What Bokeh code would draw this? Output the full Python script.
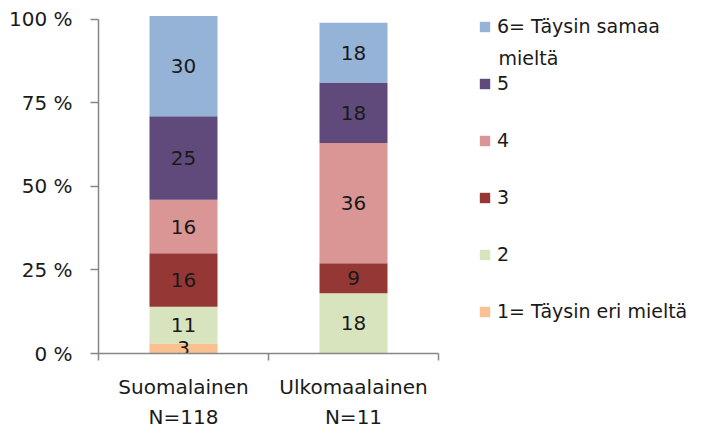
import numpy as np
from bokeh.plotting import figure
from bokeh.models import (ColumnDataSource, FixedTicker, LinearAxis, Legend,
                          LegendItem, Range1d, Label)
from bokeh.embed import file_html
from bokeh.resources import INLINE

# ---- data ----
categories = ["Suomalainen", "Ulkomaalainen"]
n_labels = ["N=118", "N=11"]
levels = ["1= Täysin eri mieltä", "2", "3", "4", "5", "6= Täysin samaa"]
level6_wrap = "mieltä"
colors = ["#FAC090", "#D7E4BD", "#953735", "#D99694", "#604A7B", "#95B3D7"]
suomalainen = [3, 11, 16, 16, 25, 30]
ulkomaalainen = [0, 18, 9, 36, 18, 18]
y_ticks = [0, 25, 50, 75, 100]
y_tick_labels = ["0 %", "25 %", "50 %", "75 %", "100 %"]

FONT = "DejaVu Sans"
FS = "20px"
LFS = "19px"
TXT = "#1a1a1a"
AX = "#868686"

# ---- layout (pixels) ----
W, H = 695, 431
LEFT, TOP, BOTTOM = 98, 4, 77
Y100_PX = 19          # screen y of the 100 % tick
CAT_PX = 170          # pixel width of one category slot
frame_w = W - LEFT
px_per_pct = (H - BOTTOM - Y100_PX) / 100.0
y_end = 100 + (Y100_PX - TOP) / px_per_pct

xpos = [i + 0.5 for i in range(len(categories))]
keys = [f"l{i}" for i in range(len(levels))]
data = {"x": xpos}
for k, a, b in zip(keys, suomalainen, ulkomaalainen):
    data[k] = [a, b]
source = ColumnDataSource(data)

p = figure(width=W, height=H, x_range=Range1d(0, frame_w / CAT_PX),
           y_range=Range1d(0, y_end),
           x_axis_type=None, y_axis_type=None, output_backend="svg",
           toolbar_location=None, min_border_left=LEFT, min_border_top=TOP,
           min_border_bottom=BOTTOM, min_border_right=0)
p.outline_line_color = None
p.xgrid.visible = False
p.ygrid.visible = False

renderers = p.vbar_stack(keys, x="x", width=0.4, fill_color=colors,
                         line_color=None, source=source)

# data labels
lx, ly, lt = [], [], []
for vals, xc in zip([suomalainen, ulkomaalainen], xpos):
    cum = np.cumsum(vals)
    for v, c in zip(vals, cum):
        if v > 0:
            lx.append(xc)
            ly.append(c - v / 2)
            lt.append(str(v))
p.text(x=lx, y=ly, text=lt, text_align="center", text_baseline="middle",
       text_font_size=FS, text_color=TXT, text_font={"value": FONT})

# y axis
yax = LinearAxis(ticker=FixedTicker(ticks=y_ticks, minor_ticks=[]),
                 bounds=(0, 100),
                 major_label_overrides={t: l for t, l in zip(y_ticks, y_tick_labels)})
yax.axis_line_color = AX
yax.axis_line_width = 1.5
yax.major_tick_line_color = AX
yax.major_tick_line_width = 1.5
yax.major_tick_out = 8
yax.major_tick_in = 0
yax.major_label_standoff = 18
yax.major_label_text_font = FONT
yax.major_label_text_font_size = FS
yax.major_label_text_color = TXT
p.add_layout(yax, "left")

# x axis (category names)
xax = LinearAxis(ticker=FixedTicker(ticks=xpos, minor_ticks=[0, 1, 2]),
                 bounds=(0, len(categories)),
                 major_label_overrides={x: c for x, c in zip(xpos, categories)})
xax.axis_line_color = AX
xax.axis_line_width = 1.5
xax.major_tick_line_color = None
xax.major_tick_out = 0
xax.major_tick_in = 0
xax.minor_tick_line_color = AX
xax.minor_tick_line_width = 1.5
xax.minor_tick_out = 7
xax.minor_tick_in = 0
xax.major_label_standoff = 14
xax.major_label_text_font = FONT
xax.major_label_text_font_size = FS
xax.major_label_text_color = TXT
p.add_layout(xax, "below")

# second line of category labels
xax2 = LinearAxis(ticker=FixedTicker(ticks=xpos, minor_ticks=[]),
                  bounds=(0, len(categories)),
                  major_label_overrides={x: n for x, n in zip(xpos, n_labels)})
xax2.axis_line_color = None
xax2.major_tick_line_color = None
xax2.minor_tick_line_color = None
xax2.major_tick_out = 0
xax2.major_tick_in = 0
xax2.major_label_standoff = 3
xax2.major_label_text_font = FONT
xax2.major_label_text_font_size = FS
xax2.major_label_text_color = TXT
p.add_layout(xax2, "below")

# legend
LEG_H = 307           # 6 rows * 22 + 5 gaps * 35
LEG_TOP = 16
items = [LegendItem(label=levels[i], renderers=[renderers[i]])
         for i in reversed(range(len(levels)))]
legend = Legend(items=items, location=(380, (H - BOTTOM) - LEG_TOP - LEG_H))
legend.border_line_color = None
legend.background_fill_alpha = 0
legend.padding = 0
legend.margin = 0
legend.glyph_width = 13
legend.glyph_height = 13
legend.label_height = 22
legend.spacing = 35
legend.label_standoff = 6
legend.label_text_font = FONT
legend.label_text_font_size = LFS
legend.label_text_color = TXT
legend.label_text_baseline = "middle"
p.add_layout(legend, "center")

# wrapped second line of the "6" legend entry
p.add_layout(Label(x=400, y=(H - BOTTOM) - 58, x_units="screen", y_units="screen",
                   text=level6_wrap, text_font=FONT, text_font_size=LFS,
                   text_color=TXT, text_baseline="middle", text_align="left"))

open("out.html", "w").write(file_html(p, INLINE))
